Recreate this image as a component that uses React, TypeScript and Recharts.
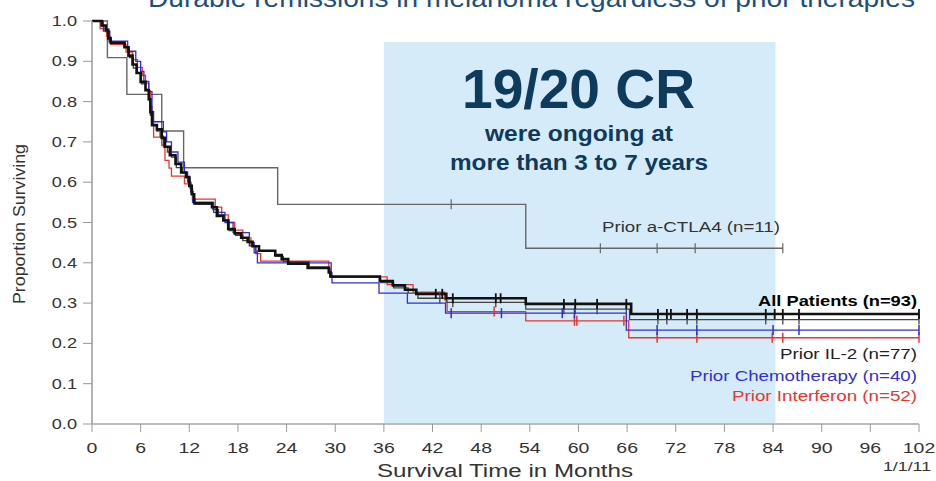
import React from 'react';
import { LineChart, Line, XAxis, YAxis, ReferenceArea } from 'recharts';

// Kaplan-Meier steps: [month, proportion surviving, censored?]
type Pt = [number, number, number?];

const X_TICKS = [0, 6, 12, 18, 24, 30, 36, 42, 48, 54, 60, 66, 72, 78, 84, 90, 96, 102];
const Y_TICKS = [0, 0.1, 0.2, 0.3, 0.4, 0.5, 0.6, 0.7, 0.8, 0.9, 1.0];

const allPatients: Pt[] = [
  [0, 1.0], [1.2, 0.989], [1.7, 0.978], [2.0, 0.957], [2.3, 0.946],
  [4.0, 0.935], [4.5, 0.914], [5.0, 0.892], [5.5, 0.871], [6.0, 0.849],
  [6.6, 0.828], [7.0, 0.806], [7.2, 0.774], [7.4, 0.742], [8.0, 0.731],
  [8.6, 0.71], [9.0, 0.688], [9.6, 0.667], [10.3, 0.645], [11.0, 0.624],
  [11.6, 0.613], [12.0, 0.591], [12.3, 0.57], [12.6, 0.548], [14.8, 0.538],
  [15.4, 0.516], [16.2, 0.505], [16.8, 0.484], [17.6, 0.473], [18.4, 0.462],
  [19.2, 0.452], [19.8, 0.441], [20.6, 0.43], [22.6, 0.419], [23.4, 0.409],
  [24.2, 0.398], [26.6, 0.387], [29.2, 0.376], [29.4, 0.366], [35.5, 0.355],
  [37.1, 0.344], [38.6, 0.333], [40.0, 0.323], [42.4, 0.323, 1], [43.2, 0.323, 1],
  [43.7, 0.312], [44.5, 0.312, 1], [49.8, 0.312, 1], [50.4, 0.312, 1],
  [53.5, 0.298], [58.2, 0.298, 1], [59.6, 0.298, 1], [62.3, 0.298, 1],
  [65.9, 0.298, 1], [66.5, 0.273], [69.8, 0.273, 1], [70.9, 0.273, 1],
  [71.4, 0.273, 1], [73.4, 0.273, 1], [74.6, 0.273, 1], [83.1, 0.273, 1],
  [84.2, 0.273, 1], [85.2, 0.273, 1], [87.2, 0.273, 1], [102, 0.273, 1],
];

const priorIL2: Pt[] = [
  [0, 1.0], [1.2, 0.987], [1.7, 0.974], [2.1, 0.948], [4.1, 0.935],
  [4.6, 0.909], [5.1, 0.883], [5.6, 0.87], [6.1, 0.844], [6.6, 0.831],
  [7.0, 0.805], [7.2, 0.766], [7.4, 0.74], [8.0, 0.727], [8.4, 0.714],
  [8.8, 0.688], [9.3, 0.675], [9.8, 0.662], [10.4, 0.636], [11.2, 0.623],
  [11.7, 0.61], [12.1, 0.584], [12.4, 0.558], [12.7, 0.545], [14.9, 0.532],
  [15.6, 0.519], [16.3, 0.506], [16.9, 0.48], [17.7, 0.468], [18.6, 0.455],
  [19.4, 0.442], [20.2, 0.429], [22.6, 0.416], [23.6, 0.403], [26.8, 0.39],
  [29.3, 0.377], [29.5, 0.364], [35.6, 0.351], [37.2, 0.338], [39.0, 0.325],
  [40.2, 0.312], [42.9, 0.312, 1], [43.7, 0.302], [44.5, 0.302, 1],
  [49.8, 0.302, 1], [53.5, 0.285], [58.2, 0.285, 1], [59.6, 0.285, 1],
  [62.3, 0.285, 1], [65.9, 0.285, 1], [66.3, 0.259], [69.8, 0.259, 1],
  [70.9, 0.259, 1], [73.4, 0.259, 1], [74.6, 0.259, 1], [83.1, 0.259, 1],
  [85.2, 0.259, 1], [87.2, 0.259, 1], [102, 0.259, 1],
];

const priorChemo: Pt[] = [
  [0, 1.0], [1.4, 0.975], [2.2, 0.95], [4.4, 0.925], [5.4, 0.9],
  [6.0, 0.875], [6.4, 0.85], [7.0, 0.825], [7.4, 0.775], [7.6, 0.75],
  [8.8, 0.725], [9.2, 0.7], [9.8, 0.675], [10.6, 0.65], [11.4, 0.625],
  [11.8, 0.6], [12.2, 0.575], [12.4, 0.55], [15.0, 0.525], [16.4, 0.5],
  [17.4, 0.475], [19.4, 0.45], [20.0, 0.425], [20.4, 0.4], [29.5, 0.375],
  [29.6, 0.35], [35.4, 0.325], [38.9, 0.3], [43.6, 0.275], [44.3, 0.275, 1],
  [50.5, 0.275, 1], [58.0, 0.275, 1], [59.5, 0.275, 1], [65.9, 0.233],
  [69.7, 0.233, 1], [74.6, 0.233, 1], [84.0, 0.233, 1], [87.2, 0.233, 1],
  [102, 0.233, 1],
];

const priorInterferon: Pt[] = [
  [0, 1.0], [1.0, 0.981], [1.8, 0.962], [2.3, 0.942], [4.2, 0.923],
  [5.0, 0.904], [5.6, 0.885], [6.2, 0.865], [6.6, 0.846], [7.0, 0.827],
  [7.2, 0.788], [7.4, 0.75], [7.6, 0.712], [8.6, 0.692], [9.0, 0.654],
  [9.5, 0.635], [9.8, 0.615], [11.4, 0.596], [12.2, 0.577], [12.5, 0.558],
  [15.2, 0.538], [16.0, 0.519], [16.8, 0.5], [17.6, 0.481], [18.6, 0.462],
  [19.6, 0.442], [20.2, 0.423], [20.8, 0.404], [29.2, 0.385], [29.4, 0.365],
  [36.4, 0.346], [39.6, 0.327], [43.5, 0.308], [43.8, 0.279], [49.6, 0.279, 1],
  [53.5, 0.256], [59.5, 0.256, 1], [59.8, 0.256, 1], [65.6, 0.256, 1],
  [66.2, 0.214], [69.7, 0.214, 1], [74.6, 0.214, 1], [83.9, 0.214, 1],
  [85.2, 0.214, 1], [102, 0.214, 1],
];

const priorCTLA4: Pt[] = [
  [0, 1.0], [1.9, 0.909], [4.3, 0.818], [8.6, 0.727], [11.3, 0.636],
  [22.9, 0.545], [44.3, 0.545, 1], [53.5, 0.436], [62.7, 0.436, 1],
  [69.7, 0.436, 1], [74.4, 0.436, 1], [85.2, 0.436, 1],
];

const FONT = '"Liberation Sans", Arial, sans-serif';
const NAVY = '#0e3a5c';

const toRows = (pts: Pt[]) => pts.map(([t, s, c]) => ({ t, s, c: !!c }));

const censorDot = (color: string, width: number, half: number) => (props: any) => {
  const { cx, cy, payload, index } = props;
  if (!payload || !payload.c) return <g key={`n-${index}`} />;
  return (
    <line key={`c-${index}`} x1={cx} x2={cx} y1={cy - half} y2={cy + half}
      stroke={color} strokeWidth={width} />
  );
};

const XTick = (props: any) => {
  const { x, y, payload } = props;
  return (
    <text transform={`translate(${x},${y + 17}) scale(1.3,1)`} textAnchor="middle"
      fontFamily={FONT} fontSize={15} fill="#333">
      {payload.value}
    </text>
  );
};

const YTick = (props: any) => {
  const { x, y, payload } = props;
  return (
    <text transform={`translate(${x},${y + 5}) scale(1.3,1)`} textAnchor="end"
      fontFamily={FONT} fontSize={14} fill="#333">
      {Number(payload.value).toFixed(1)}
    </text>
  );
};

const SERIES = [
  { key: 'ctla4', pts: priorCTLA4, color: '#666', w: 1.4, tick: 1.2 },
  { key: 'ifn', pts: priorInterferon, color: '#e8352e', w: 1.3, tick: 1.5 },
  { key: 'chemo', pts: priorChemo, color: '#2f2fd8', w: 1.3, tick: 1.5 },
  { key: 'il2', pts: priorIL2, color: '#444', w: 1.3, tick: 1.3 },
  { key: 'all', pts: allPatients, color: '#111', w: 2.6, tick: 1.8 },
];

export default function App() {
  return (
    <div style={{ position: 'absolute', left: 0, top: 0, width: 936, height: 481, background: '#fff' }}>
      <LineChart width={936} height={481} margin={{ top: 21, right: 17, left: 0, bottom: 0 }}>
        <XAxis
          dataKey="t"
          type="number"
          domain={[0, 102]}
          ticks={X_TICKS}
          interval={0}
          tick={<XTick />}
          tickSize={8}
          tickMargin={4}
          height={57}
          axisLine={{ stroke: '#bbb', strokeWidth: 2 }}
          tickLine={{ stroke: '#999' }}
          allowDuplicatedCategory={false}
        />
        <YAxis
          type="number"
          domain={[0, 1]}
          ticks={Y_TICKS}
          interval={0}
          tick={<YTick />}
          tickSize={9}
          tickMargin={6}
          width={92}
          axisLine={{ stroke: '#999', strokeWidth: 1.5 }}
          tickLine={{ stroke: '#999' }}
        />
        <ReferenceArea x1={36} x2={84.3} y1={0} y2={0.948} fill="#d5ebf9" fillOpacity={1} stroke="none" />
        {SERIES.map((s) => (
          <Line
            key={s.key}
            data={toRows(s.pts)}
            dataKey="s"
            type="stepAfter"
            stroke={s.color}
            strokeWidth={s.w}
            dot={censorDot(s.color, s.tick, 5)}
            activeDot={false}
            isAnimationActive={false}
          />
        ))}
      </LineChart>
      <svg width={936} height={481} style={{ position: 'absolute', left: 0, top: 0, pointerEvents: 'none' }}>
        <text x={148} y={7} fontFamily={FONT} fontSize={26} fill="#1d4f7c"
          textLength={767} lengthAdjust="spacingAndGlyphs">
          Durable remissions in melanoma regardless of prior therapies
        </text>
        <text x={462} y={108} fontFamily={FONT} fontSize={55} fontWeight="bold" fill={NAVY}
          textLength={233} lengthAdjust="spacingAndGlyphs">19/20 CR</text>
        <text x={485} y={141} fontFamily={FONT} fontSize={22} fontWeight="bold" fill={NAVY}
          textLength={188} lengthAdjust="spacingAndGlyphs">were ongoing at</text>
        <text x={450} y={170} fontFamily={FONT} fontSize={22} fontWeight="bold" fill={NAVY}
          textLength={258} lengthAdjust="spacingAndGlyphs">more than 3 to 7 years</text>
        <text x={602} y={232} fontFamily={FONT} fontSize={14} fill="#333"
          textLength={178} lengthAdjust="spacingAndGlyphs">Prior a-CTLA4 (n=11)</text>
        <text x={758} y={306} fontFamily={FONT} fontSize={14.5} fontWeight="bold" fill="#000"
          textLength={159} lengthAdjust="spacingAndGlyphs">All Patients (n=93)</text>
        <text x={780} y={359} fontFamily={FONT} fontSize={14} fill="#222"
          textLength={137} lengthAdjust="spacingAndGlyphs">Prior IL-2 (n=77)</text>
        <text x={690} y={381} fontFamily={FONT} fontSize={14} fill="#2f2fd8"
          textLength={227} lengthAdjust="spacingAndGlyphs">Prior Chemotherapy (n=40)</text>
        <text x={732} y={401} fontFamily={FONT} fontSize={14} fill="#e8352e"
          textLength={185} lengthAdjust="spacingAndGlyphs">Prior Interferon (n=52)</text>
        <text x={883} y={471} fontFamily={FONT} fontSize={13} fill="#333"
          textLength={48} lengthAdjust="spacingAndGlyphs">1/1/11</text>
        <text x={377} y={477} fontFamily={FONT} fontSize={18} fill="#333"
          textLength={256} lengthAdjust="spacingAndGlyphs">Survival Time in Months</text>
        <text transform="translate(25,224) rotate(-90)" textAnchor="middle" fontFamily={FONT}
          fontSize={16} fill="#333" textLength={160} lengthAdjust="spacingAndGlyphs">
          Proportion Surviving
        </text>
      </svg>
    </div>
  );
}
